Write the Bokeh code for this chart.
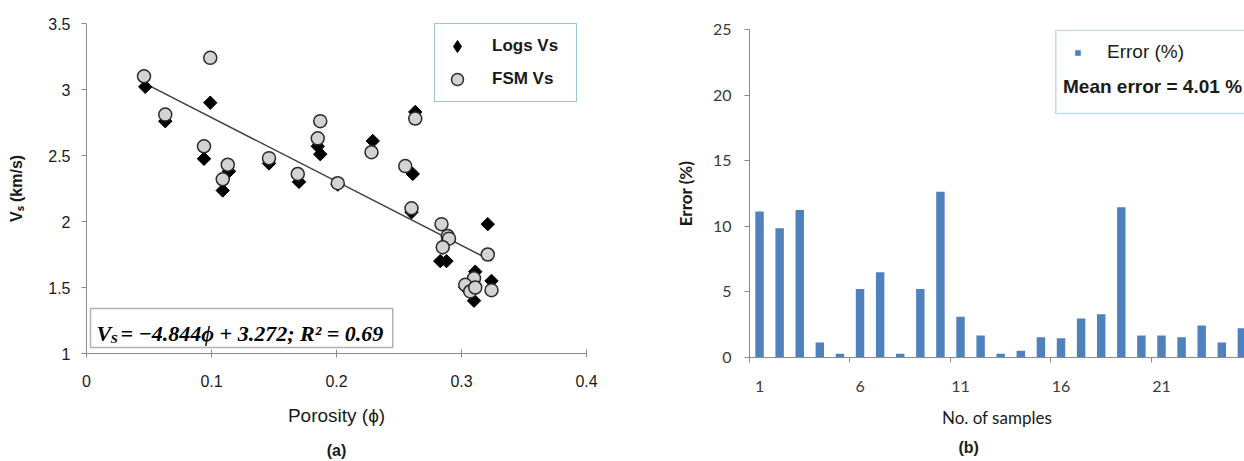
import math
from bokeh.plotting import figure
from bokeh.models import (FixedTicker, Legend, LegendItem, Label, BoxAnnotation,
                          Title, Range1d, LinearAxis)
from bokeh.layouts import row
from bokeh.embed import file_html
from bokeh.resources import INLINE

# ---------------- data: panel (a) ----------------
logs_phi = [0.047, 0.063, 0.099, 0.094, 0.114, 0.109, 0.146, 0.170, 0.187, 0.185,
            0.201, 0.229, 0.263, 0.261, 0.260, 0.283, 0.288, 0.321, 0.311, 0.310,
            0.324, 0.289, 0.285, 0.307, 0.303]
logs_vs = [3.02, 2.76, 2.90, 2.475, 2.38, 2.235, 2.44, 2.30, 2.51, 2.57,
           2.28, 2.61, 2.83, 2.36, 2.07, 1.70, 1.70, 1.98, 1.62, 1.40,
           1.55, 1.86, 1.80, 1.47, 1.50]
fsm_phi = [0.046, 0.063, 0.099, 0.094, 0.113, 0.109, 0.146, 0.169, 0.187, 0.185,
           0.201, 0.228, 0.263, 0.255, 0.260, 0.284, 0.289, 0.290, 0.285, 0.321,
           0.310, 0.303, 0.307, 0.324, 0.311]
fsm_vs = [3.10, 2.81, 3.24, 2.57, 2.43, 2.32, 2.48, 2.36, 2.76, 2.63,
          2.29, 2.525, 2.78, 2.42, 2.10, 1.98, 1.89, 1.87, 1.805, 1.75,
          1.57, 1.52, 1.47, 1.48, 1.50]
fit_slope = -4.844
fit_intercept = 3.272
fit_r2 = 0.69

x_ticks_a = [0, 0.1, 0.2, 0.3, 0.4]
x_labels_a = ["0", "0.1", "0.2", "0.3", "0.4"]
y_ticks_a = [1, 1.5, 2, 2.5, 3, 3.5]
y_labels_a = ["1", "1.5", "2", "2.5", "3", "3.5"]

# ---------------- data: panel (b) ----------------
samples = list(range(1, 26))
error_pct = [11.12, 9.85, 11.24, 1.14, 0.28, 5.23, 6.50, 0.28, 5.23, 12.64,
             3.10, 1.68, 0.28, 0.51, 1.55, 1.47, 2.97, 3.30, 11.45, 1.68,
             1.68, 1.55, 2.44, 1.14, 2.23]
mean_error = 4.01
x_ticks_b = [1, 6, 11, 16, 21]
y_ticks_b = [0, 5, 10, 15, 20, 25]

SANS = "Liberation Sans"
SERIF = "Liberation Serif"
CAL = "Lato"
AXIS_GRAY = "#8c8c8c"
BOX_BLUE = "#3d89b0"
NAN = float("nan")

# ================= panel (a) =================
p1 = figure(width=640, height=461, x_range=Range1d(0, 0.4), y_range=Range1d(1, 3.5),
            output_backend="svg", toolbar_location=None, frame_align=False,
            min_border_left=86, min_border_right=54, min_border_top=23, min_border_bottom=108)
p1.outline_line_color = None
p1.grid.visible = False
p1.background_fill_color = "white"

xa = p1.xaxis[0]
xa.ticker = FixedTicker(ticks=x_ticks_a)
xa.major_label_overrides = dict(zip(x_ticks_a, x_labels_a))
xa.axis_label = "Porosity (ϕ)"
ya = p1.yaxis[0]
ya.ticker = FixedTicker(ticks=y_ticks_a)
ya.major_label_overrides = dict(zip(y_ticks_a, y_labels_a))
ya.axis_label = "Vₛ (km/s)"

for ax in (xa, ya):
    ax.axis_line_color = AXIS_GRAY
    ax.major_tick_line_color = AXIS_GRAY
    ax.minor_tick_line_color = None
    ax.major_label_text_font = SANS
    ax.major_label_text_font_size = "16px"
    ax.major_label_text_color = "#1a1a1a"
    ax.axis_label_text_font = SANS
    ax.axis_label_text_color = "#1a1a1a"
xa.major_tick_in = 4
xa.major_tick_out = 4
xa.major_label_standoff = 17
xa.axis_label_text_font_size = "19px"
xa.axis_label_text_font_style = "normal"
xa.axis_label_standoff = 15
ya.major_tick_in = 0
ya.major_tick_out = 5
ya.major_label_standoff = 11
ya.axis_label_text_font_size = "16px"
ya.axis_label_text_font_style = "bold"
ya.axis_label_standoff = 20

# caption "(a)": a bare axis (no line, no ticks) carrying only its label
cap_a = LinearAxis(ticker=FixedTicker(ticks=[]), axis_label="(a)",
                   axis_line_color=None, major_tick_line_color=None,
                   minor_tick_line_color=None, major_tick_out=0, major_tick_in=0,
                   major_label_standoff=0, axis_label_standoff=13,
                   axis_label_text_font=SANS, axis_label_text_font_size="16px",
                   axis_label_text_font_style="bold", axis_label_text_color="#1a1a1a")
p1.add_layout(cap_a, "below")

fit_x = [min(logs_phi), max(logs_phi)]
fit_y = [fit_intercept + fit_slope * v for v in fit_x]
p1.line(fit_x, fit_y, line_color="#3f3f3f", line_width=1.5)

r_logs = p1.scatter(logs_phi, logs_vs, marker="square", angle=math.pi / 4, size=9.5,
                    fill_color="black", line_color="black")
r_fsm = p1.scatter(fsm_phi, fsm_vs, marker="circle", size=13,
                   fill_color="#d3d3d3", line_color="#2a2a2a", line_width=1.5)
# legend-only key glyph (diamond symbol); NaN position so it is never drawn in the plot
r_logs_key = p1.scatter(x=[NAN], y=[NAN], marker="diamond", fill_color="black",
                        line_color="black")

leg1 = Legend(items=[LegendItem(label="Logs Vs", renderers=[r_logs_key]),
                     LegendItem(label="FSM Vs", renderers=[r_fsm])],
              location=(348, 251), orientation="vertical",
              glyph_width=30, glyph_height=30, padding=7, spacing=3, margin=0,
              label_standoff=20, label_width=77,
              label_text_font=SANS, label_text_font_size="17px", label_text_font_style="bold",
              label_text_color="#1a1a1a",
              border_line_color=BOX_BLUE, border_line_width=1.5,
              background_fill_color="white", background_fill_alpha=1)
p1.add_layout(leg1, "center")

# equation box
p1.add_layout(BoxAnnotation(left=0.0032, right=0.245, bottom=1.045, top=1.341,
                            fill_color="white", fill_alpha=1,
                            line_color="black", line_width=1.5))
eq_y = 1.152
p1.add_layout(Label(x=0.0032, y=eq_y, x_offset=6, text="V", text_font=SERIF,
                    text_font_size="22px", text_font_style="bold italic",
                    text_baseline="alphabetic", text_color="black"))
p1.add_layout(Label(x=0.0032, y=eq_y, x_offset=20, y_offset=-5, text="S", text_font=SERIF,
                    text_font_size="13px", text_font_style="bold italic",
                    text_baseline="alphabetic", text_color="black"))
p1.add_layout(Label(x=0.0032, y=eq_y, x_offset=30,
                    text=f"= −{abs(fit_slope):.3f}ϕ + {fit_intercept:.3f};  R² = {fit_r2:.2f}",
                    text_font=SERIF, text_font_size="22px", text_font_style="bold italic",
                    text_baseline="alphabetic", text_color="black"))

# ================= panel (b) =================
p2 = figure(width=604, height=461, x_range=Range1d(0.5, 25.13), y_range=Range1d(0, 25),
            output_backend="svg", toolbar_location=None, frame_align=False,
            min_border_left=109, min_border_right=0, min_border_top=29, min_border_bottom=104)
p2.outline_line_color = None
p2.grid.visible = False

bars = p2.vbar(x=samples, top=error_pct, width=0.42, bottom=0,
               fill_color="#4f81bd", line_color=None)

xb = p2.xaxis[0]
xb.ticker = FixedTicker(ticks=x_ticks_b, minor_ticks=[t - 0.5 for t in x_ticks_b])
xb.major_tick_in = 0
xb.major_tick_out = 0
xb.minor_tick_in = 0
xb.minor_tick_out = 5
xb.minor_tick_line_color = AXIS_GRAY
xb.major_label_standoff = 18
xb.axis_label = "No. of samples"
xb.axis_label_text_font_size = "17px"
xb.axis_label_text_font_style = "normal"
xb.axis_label_standoff = 12
yb = p2.yaxis[0]
yb.ticker = FixedTicker(ticks=y_ticks_b)
yb.major_tick_in = 0
yb.major_tick_out = 5
yb.minor_tick_line_color = None
yb.major_label_standoff = 13
yb.axis_label = "Error (%)"
yb.axis_label_text_font_size = "17px"
yb.axis_label_text_font_style = "bold"
yb.axis_label_standoff = 14
for ax in (xb, yb):
    ax.axis_line_color = AXIS_GRAY
    ax.major_tick_line_color = AXIS_GRAY
    ax.major_label_text_font = CAL
    ax.major_label_text_font_size = "16px"
    ax.major_label_text_color = "#3a3a3a"
    ax.axis_label_text_font = CAL
    ax.axis_label_text_color = "#1a1a1a"

p2.add_layout(BoxAnnotation(left=15.74, right=27, bottom=18.6, top=24.95,
                            fill_color="white", fill_alpha=1,
                            line_color=BOX_BLUE, line_width=1.5))
leg2 = Legend(items=[LegendItem(label="Error (%)", renderers=[bars])],
              location=(325, 294), glyph_width=7, glyph_height=7, padding=0, spacing=0,
              margin=0, label_standoff=26, label_text_font=SANS, label_text_font_size="19px",
              label_text_color="#1a1a1a", border_line_alpha=0, background_fill_alpha=0)
p2.add_layout(leg2, "center")
p2.add_layout(Label(x=16.1, y=20.68, text=f"Mean error = {mean_error:.2f} %",
                    text_font=SANS, text_font_size="19px", text_font_style="bold",
                    text_baseline="middle", text_color="#1a1a1a"))

p2.add_layout(Title(text="(b)", align="left", offset=209, text_font=SANS,
                    text_font_size="16px", text_font_style="bold", text_color="#1a1a1a",
                    standoff=12), "below")

layout = row(p1, p2)
open("out.html", "w").write(file_html(layout, INLINE))
